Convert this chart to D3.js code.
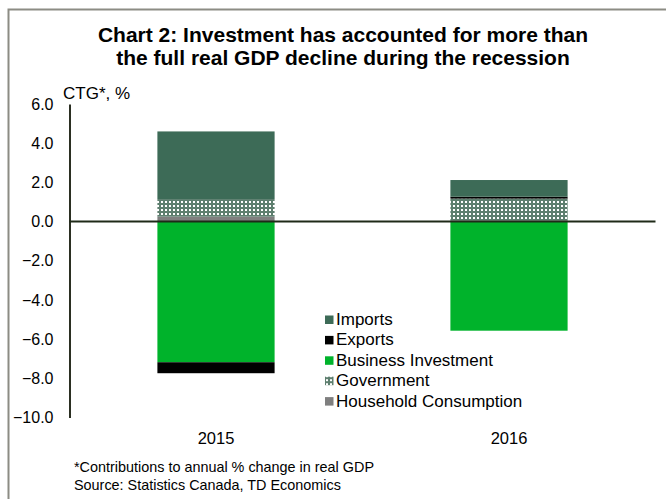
<!DOCTYPE html>
<html>
<head>
<meta charset="utf-8">
<script src="https://cdn.jsdelivr.net/npm/d3@7"></script>
<style>
  html, body { margin: 0; padding: 0; background: #fff; }
  svg { display: block; font-family: "Liberation Sans", Arial, sans-serif; }
</style>
</head>
<body>
<svg id="chart" width="666" height="499"></svg>
<script>
// Contributions to annual % change in real GDP, by component
const years = ["2015", "2016"];
const householdConsumption = [0.25, 0.05];
const government = [0.90, 1.12];
const businessInvestment = [-7.18, -5.57];
const exports = [-0.56, 0.10];
const imports = [3.45, 0.85];

const yTicks = [6, 4, 2, 0, -2, -4, -6, -8, -10];

const titleLines = [
  "Chart 2: Investment has accounted for more than",
  "the full real GDP decline during the recession"
];
const yAxisTitle = "CTG*, %";
const footnotes = [
  "*Contributions to annual % change in real GDP",
  "Source: Statistics Canada, TD Economics"
];

// stacking order (bottom to top) and legend order (top to bottom)
const series = [
  { key: "Household Consumption", values: householdConsumption, color: "#7f7f7f" },
  { key: "Government", values: government, color: "url(#govPattern)" },
  { key: "Business Investment", values: businessInvestment, color: "#00b32b" },
  { key: "Exports", values: exports, color: "#000000" },
  { key: "Imports", values: imports, color: "#3d6b57" }
];

const rows = years.map((y, i) => {
  const r = { year: y };
  series.forEach(s => { r[s.key] = s.values[i]; });
  return r;
});

const svg = d3.select("#chart");

// pattern for the government segment
const defs = svg.append("defs");
const pat = defs.append("pattern")
  .attr("id", "govPattern")
  .attr("patternUnits", "userSpaceOnUse")
  .attr("width", 4).attr("height", 4);
pat.append("rect").attr("width", 4).attr("height", 4).attr("fill", "#5e7f6f");
pat.append("rect").attr("x", 1).attr("y", 1).attr("width", 2).attr("height", 2).attr("fill", "#ffffff");

// outer frame (top and left edges)
svg.append("path")
  .attr("d", "M8.5,499 V9.5 H666")
  .attr("fill", "none")
  .attr("stroke", "#8c8c84")
  .attr("stroke-width", 2);

// title
svg.append("g")
  .selectAll("text")
  .data(titleLines)
  .join("text")
  .attr("x", 343)
  .attr("y", (d, i) => 42 + i * 23)
  .attr("text-anchor", "middle")
  .attr("font-weight", "bold")
  .attr("font-size", 21)
  .attr("fill", "#000")
  .text(d => d);

const plot = { left: 69.5, right: 655.5, top: 104, bottom: 417.5 };

const x = d3.scaleBand()
  .domain(years)
  .range([plot.left, plot.right])
  .paddingInner(0.6)
  .paddingOuter(0.3);

const y = d3.scaleLinear()
  .domain([-10, 6])
  .range([plot.bottom, plot.top]);

const stacked = d3.stack()
  .keys(series.map(s => s.key))
  .offset(d3.stackOffsetDiverging)(rows);

// bars
const colorOf = new Map(series.map(s => [s.key, s.color]));
svg.append("g")
  .selectAll("g")
  .data(stacked)
  .join("g")
  .attr("fill", d => colorOf.get(d.key))
  .selectAll("rect")
  .data(d => d)
  .join("rect")
  .attr("x", d => x(d.data.year))
  .attr("width", x.bandwidth())
  .attr("y", d => y(Math.max(d[0], d[1])))
  .attr("height", d => Math.abs(y(d[0]) - y(d[1])));

// y axis
const yAxis = d3.axisLeft(y)
  .tickValues(yTicks)
  .tickSize(0)
  .tickPadding(16)
  .tickFormat(d3.format(".1f"));

const yg = svg.append("g")
  .attr("transform", `translate(${plot.left},0)`)
  .call(yAxis);
yg.select(".domain").attr("stroke", "#2b2f22").attr("stroke-width", 2);
yg.selectAll(".tick text")
  .attr("font-size", 16)
  .attr("fill", "#000")
  .attr("font-family", "Liberation Sans, Arial, sans-serif");

// zero line
svg.append("line")
  .attr("x1", plot.left)
  .attr("x2", plot.right)
  .attr("y1", y(0))
  .attr("y2", y(0))
  .attr("stroke", "#1f2a18")
  .attr("stroke-width", 2);

// x axis labels
const xAxis = d3.axisBottom(x).tickSize(0).tickPadding(0);
const xg = svg.append("g")
  .attr("transform", `translate(0,${plot.bottom + 10})`)
  .call(xAxis);
xg.select(".domain").remove();
xg.selectAll(".tick text")
  .attr("font-size", 16.5)
  .attr("fill", "#000")
  .attr("dy", "1em")
  .attr("font-family", "Liberation Sans, Arial, sans-serif");

// y axis title
svg.append("text")
  .attr("x", 63)
  .attr("y", 99)
  .attr("font-size", 17)
  .attr("fill", "#000")
  .text(yAxisTitle);

// legend
const legendItems = series.slice().reverse();
const lg = svg.append("g").attr("transform", "translate(325,325)");
const li = lg.selectAll("g")
  .data(legendItems)
  .join("g")
  .attr("transform", (d, i) => `translate(0,${i * 20.4})`);
li.append("rect")
  .attr("x", 0).attr("y", -9.5)
  .attr("width", 8.5).attr("height", 8.5)
  .attr("fill", d => d.color);
li.append("text")
  .attr("x", 11)
  .attr("y", 0)
  .attr("font-size", 17)
  .attr("fill", "#000")
  .text(d => d.key);

// footnotes
svg.append("g")
  .selectAll("text")
  .data(footnotes)
  .join("text")
  .attr("x", 74)
  .attr("y", (d, i) => 472 + i * 18)
  .attr("font-size", 14.4)
  .attr("fill", "#000")
  .text(d => d);
</script>
</body>
</html>
